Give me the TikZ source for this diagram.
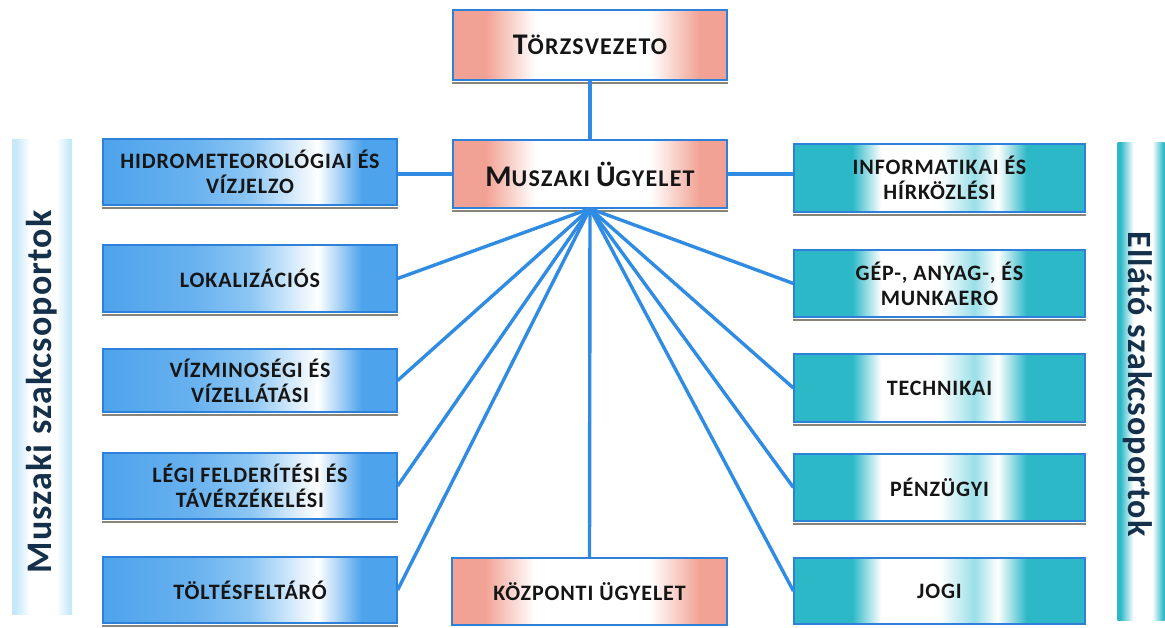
\documentclass[tikz,border=0pt]{standalone}
\usepackage{fontspec}
\setmainfont{Carlito}
\newfontfamily\boxfont{Carlito}[LetterSpace=4]
\newfontfamily\titlefont{Carlito}[LetterSpace=5]
\newfontfamily\sidefont{Carlito}[LetterSpace=3]
\definecolor{bxblue}{HTML}{4DA3EC}
\definecolor{bxlight}{HTML}{8CC6F4}
\definecolor{pinkc}{HTML}{F2A294}
\definecolor{tealc}{HTML}{2DB8C8}
\definecolor{teallight}{HTML}{9ADFE8}
\definecolor{edgeblue}{HTML}{2E80D8}
\definecolor{lineblue}{HTML}{2F8CE2}
\definecolor{barcyan}{HTML}{C6E8F8}
\definecolor{txt}{HTML}{151515}
\definecolor{sidetxt}{HTML}{14304A}
\definecolor{shadowc}{HTML}{8A8478}
\pgfdeclarehorizontalshading{blueshade}{100bp}{color(0bp)=(bxblue); color(25bp)=(bxblue); color(40bp)=(bxblue!85!white); color(50bp)=(bxlight); color(61.5bp)=(white); color(69bp)=(bxblue); color(100bp)=(bxblue)}
\pgfdeclarehorizontalshading{pinkshade}{100bp}{color(0bp)=(pinkc); color(31bp)=(pinkc); color(40bp)=(white); color(61bp)=(white); color(70bp)=(pinkc); color(100bp)=(pinkc)}
\pgfdeclarehorizontalshading{tealshade}{100bp}{color(0bp)=(tealc); color(35bp)=(tealc); color(40bp)=(white); color(50bp)=(white); color(56bp)=(teallight); color(60bp)=(white); color(65bp)=(tealc); color(100bp)=(tealc)}
\pgfdeclarehorizontalshading{rbarshade}{100bp}{color(0bp)=(tealc); color(28bp)=(tealc); color(42bp)=(white); color(62bp)=(white); color(74bp)=(tealc); color(100bp)=(tealc)}
\pgfdeclarehorizontalshading{lbarshade}{100bp}{color(0bp)=(barcyan); color(28bp)=(barcyan); color(40bp)=(white); color(62bp)=(white); color(73bp)=(barcyan); color(100bp)=(barcyan)}
\tikzset{
  box/.style={draw=edgeblue, line width=1.2pt, inner sep=0pt, align=center,
    text=txt, font=\boxfont\bfseries\fontsize{22}{25}\selectfont},
  lbox/.style={box, shading=blueshade, minimum width=294pt, minimum height=66pt},
  rbox/.style={box, shading=tealshade, minimum width=291pt, minimum height=67pt},
  pbox/.style={box, shading=pinkshade, minimum width=274pt, minimum height=68pt},
  conn/.style={draw=lineblue, line width=3.4pt},
  shadowline/.style={draw=shadowc, line width=1.6pt, dash pattern=on 1.2pt off 0.8pt},
  sidebar/.style={inner sep=0pt, draw=none},
  sidetext/.style={text=sidetxt, inner sep=0pt, font=\sidefont\bfseries\fontsize{36}{40}\selectfont}
}
\newcommand{\BC}[1]{{\fontsize{30}{32}\selectfont #1}}
\newcommand{\SC}[1]{{\fontsize{24}{32}\selectfont #1}}
\begin{document}
\begin{tikzpicture}[x=1pt,y=-1pt]
\useasboundingbox (0,0) rectangle (1165,628);
\fill[white] (0,0) rectangle (1165,628);
% side bars
\node[sidebar, shading=lbarshade, minimum width=60pt, minimum height=474pt] (lbar) at (42,377) {};
\node[sidebar, shading=rbarshade, minimum width=47pt, minimum height=477pt] (rbar) at (1141,381.5) {};
\node[sidetext, rotate=90] (ltext) at (42,392) {Muszaki szakcsoportok};
\node[sidetext, rotate=-90, font=\sidefont\bfseries\fontsize{34}{38}\selectfont] (rtext) at (1138,384) {Ellátó szakcsoportok};
% central column
\node[pbox, minimum height=70pt] (torzs) at (590,45) {\titlefont\BC{T}\SC{ÖRZSVEZETO}};
\node[pbox] (musz) at (590,174) {\titlefont\BC{M}\SC{USZAKI} \BC{Ü}\SC{GYELET}};
\node[pbox, minimum width=275pt, minimum height=67pt] (kozp) at (589.5,591.5) {KÖZPONTI ÜGYELET};
% left column
\node[lbox] (hidro) at (250,172) {HIDROMETEOROLÓGIAI ÉS\\VÍZJELZO};
\node[lbox, minimum height=67pt] (lok) at (250,278.5) {LOKALIZÁCIÓS};
\node[lbox, minimum height=63pt] (viz) at (250,380.5) {VÍZMINOSÉGI ÉS\\VÍZELLÁTÁSI};
\node[lbox] (legi) at (250,486) {LÉGI FELDERÍTÉSI ÉS\\TÁVÉRZÉKELÉSI};
\node[lbox] (tolt) at (250,590) {TÖLTÉSFELTÁRÓ};
% right column
\node[rbox, minimum height=68pt] (info) at (939.5,178) {INFORMATIKAI ÉS\\HÍRKÖZLÉSI};
\node[rbox] (gep) at (939.5,283.5) {GÉP-, ANYAG-, ÉS\\MUNKAERO};
\node[rbox, minimum height=68pt] (tech) at (939.5,388) {TECHNIKAI};
\node[rbox] (penz) at (939.5,487.5) {PÉNZÜGYI};
\node[rbox, minimum height=66pt] (jogi) at (939.5,591) {JOGI};
% shadow lines
\foreach \n in {torzs,musz,hidro,lok,viz,legi,tolt,info,gep,tech,penz}
  \draw[shadowline] ([yshift=-2.5pt]\n.south west) -- ([yshift=-2.5pt]\n.south east);
% connectors
\draw[conn] (torzs.south) -- (musz.north);
\draw[conn] (musz.west) -- (musz.west -| hidro.east);
\draw[conn] (musz.east) -- (musz.east -| info.west);
\foreach \t in {lok,viz,legi,tolt}
  \draw[conn] (musz.south) -- (\t.east);
\foreach \t in {gep,tech,penz,jogi}
  \draw[conn] (musz.south) -- (\t.west);
\draw[conn] (musz.south) -- (kozp.north);
\end{tikzpicture}
\end{document}
